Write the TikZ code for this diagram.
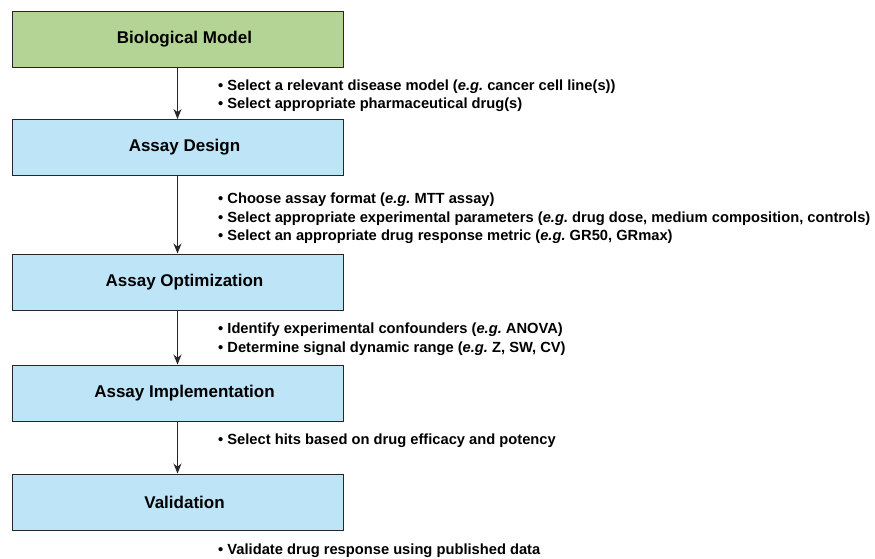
\documentclass[tikz,border=0pt]{standalone}
\usepackage{fontspec}
\setmainfont{Liberation Sans}
\frenchspacing
\usetikzlibrary{arrows.meta}
\definecolor{biogreen}{RGB}{180,212,150}
\definecolor{stageblue}{RGB}{190,228,248}

\begin{document}
\begin{tikzpicture}[x=1pt,y=-1pt,>={Stealth[length=10pt,width=8pt]},
	stage/.style={draw=black!85,line width=1pt,fill=stageblue,minimum width=331pt,minimum height=56pt,inner sep=0pt,font=\bfseries\fontsize{17}{20}\selectfont,execute at begin node=\hspace*{14pt}},
	note/.style={anchor=north west,align=left,inner sep=0pt,font=\bfseries\fontsize{14.7}{18.5}\selectfont}]

\useasboundingbox (0,0) rectangle (875,558);

% stages
\node [stage,fill=biogreen] (bio) at (177.5,39) {Biological Model};
\node [stage] (design) at (177.5,147.5) {Assay Design};
\node [stage] (optim) at (177.5,282) {Assay Optimization};
\node [stage] (impl) at (177.5,393) {Assay Implementation};
\node [stage] (valid) at (177.5,502) {Validation};

% arrows
\draw [->,line width=1pt,black!85] (bio) -- (design);
\draw [->,line width=1pt,black!85] (design) -- (optim);
\draw [->,line width=1pt,black!85] (optim) -- (impl);
\draw [->,line width=1pt,black!85] (impl) -- (valid);

% notes
\node [note] (biotxt) at (218,79.5) {\textbullet\ Select a relevant disease model (\textit{e.g.} cancer cell line(s))\\
\textbullet\ Select appropriate pharmaceutical drug(s)};
\node [note] (designtxt) at (218,193) {\textbullet\ Choose assay format (\textit{e.g.} MTT assay)\\
\textbullet\ Select appropriate experimental parameters (\textit{e.g.} drug dose, medium composition, controls)\\
\textbullet\ Select an appropriate drug response metric (\textit{e.g.} GR50, GRmax)};
\node [note] (optimtxt) at (218,323) {\textbullet\ Identify experimental confounders (\textit{e.g.} ANOVA)\\
\textbullet\ Determine signal dynamic range (\textit{e.g.} Z, SW, CV)};
\node [note] (impltxt) at (218,434) {\textbullet\ Select hits based on drug efficacy and potency};
\node [note] (validtxt) at (218,544) {\textbullet\ Validate drug response using published data};

\end{tikzpicture}
\end{document}
